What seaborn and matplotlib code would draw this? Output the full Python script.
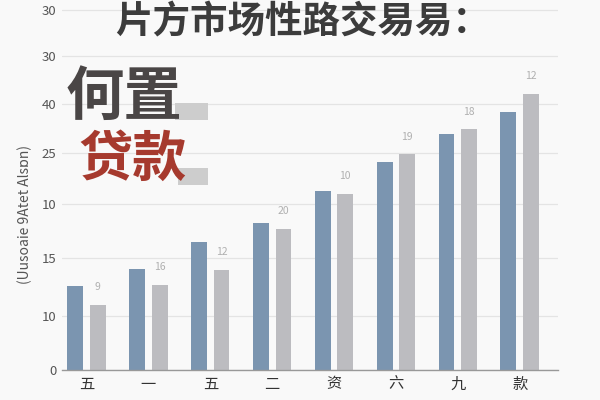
import numpy as np
import pandas as pd
import matplotlib
matplotlib.use("Agg")
import matplotlib.pyplot as plt
import seaborn as sns
from matplotlib.patches import Rectangle

# =========================
# Data (bar heights in axis units)
# =========================
categories = ["五", "一", "五", "二", "资", "六", "九", "款"]
blue_values = [8.4, 10.2, 12.85, 14.8, 18.0, 20.9, 23.7, 25.9]
gray_values = [6.55, 8.55, 10.1, 14.2, 17.7, 21.7, 24.2, 27.8]
gray_labels = ["9", "16", "12", "20", "10", "19", "18", "12"]

tick_positions = [0, 5.43, 11.27, 16.73, 21.77, 26.77, 31.55, 36.2]
tick_labels = ["0", "10", "15", "10", "25", "40", "30", "30"]

title_text = "片方市场性路交易易："
big_text_1 = "何置"
big_text_2 = "贷款"
y_label = "(Uusoaie 9Atet Alsɒn)"

series_names = ["A", "B"]
palette = {"A": "#7b95b0", "B": "#bcbcc0"}

df = pd.DataFrame({
    "category": list(range(len(categories))) * 2,
    "value": blue_values + gray_values,
    "series": [series_names[0]] * len(categories) + [series_names[1]] * len(categories),
})

# =========================
# Style
# =========================
sns.set_theme(style="white")
plt.rcParams["font.family"] = ["Noto Sans CJK SC", "DejaVu Sans"]

fig = plt.figure(figsize=(6, 4), dpi=100, facecolor="#f9f9f9")
ax = fig.add_axes([0.103, 0.075, 0.827, 0.905])
ax.set_facecolor("#f9f9f9")

sns.barplot(
    data=df, x="category", y="value", hue="series",
    palette=palette, width=0.73, gap=0.3, dodge=True,
    saturation=1, legend=False, ax=ax, zorder=2, linewidth=0,
)

ax.bar_label(ax.containers[1], labels=gray_labels, padding=9,
             color="#b0b0b0", fontsize=7.5)

ax.set_xlim(-0.4, 7.62)
ax.set_ylim(0, 36.4)
ax.set_yticks(tick_positions)
ax.set_yticklabels(tick_labels, color="#555555", fontsize=9.5)
ax.set_xticks(range(len(categories)))
ax.set_xticklabels(categories, color="#333333", fontsize=11)
ax.tick_params(axis="both", length=0, pad=4)
ax.set_xlabel("")
ax.set_ylabel("")

ax.grid(axis="y", color="#e4e4e4", linewidth=0.9, zorder=0)
ax.set_axisbelow(True)
for side in ["top", "right", "left"]:
    ax.spines[side].set_visible(False)
ax.spines["bottom"].set_color("#999999")
ax.spines["bottom"].set_linewidth(1.0)

# =========================
# Overlay texts
# =========================
fig.text(0.505, 0.945, title_text, ha="center", va="center",
         fontsize=27, fontweight="bold", color="#3c3c3c")

fig.patches.append(Rectangle((0.292, 0.70), 0.055, 0.0425, transform=fig.transFigure,
                             facecolor="#cdcdcd", edgecolor="none", zorder=1))
fig.patches.append(Rectangle((0.297, 0.5375), 0.05, 0.0425, transform=fig.transFigure,
                             facecolor="#cdcdcd", edgecolor="none", zorder=1))

fig.text(0.110, 0.755, big_text_1, ha="left", va="center",
         fontsize=42, fontweight="bold", color="#4a4646", zorder=3)
fig.text(0.130, 0.60, big_text_2, ha="left", va="center",
         fontsize=39, fontweight="bold", color="#a63a2e", zorder=3)

fig.text(0.042, 0.4625, y_label, ha="center", va="center", rotation=90,
         fontsize=10, color="#555555")

fig.savefig("out.png", dpi=100, facecolor=fig.get_facecolor())
